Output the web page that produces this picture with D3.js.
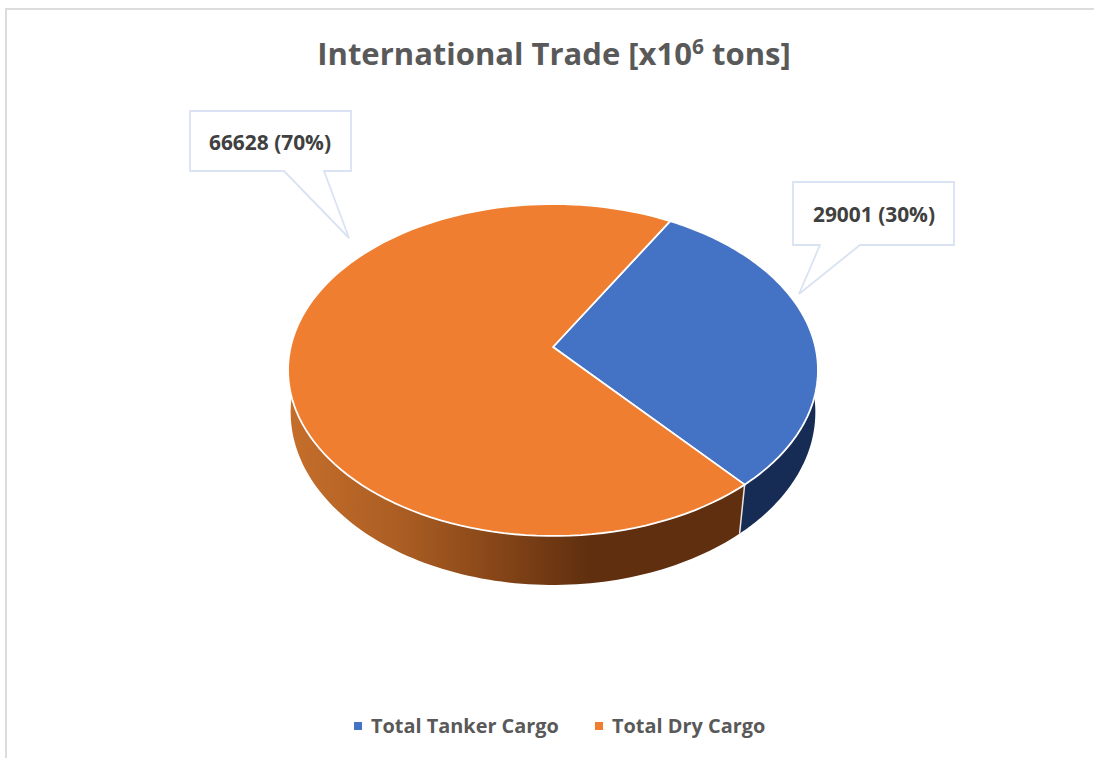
<!DOCTYPE html>
<html>
<head>
<meta charset="utf-8">
<script src="https://cdn.jsdelivr.net/npm/d3@7"></script>
<style>
  html, body { margin: 0; padding: 0; background: #fff; }
  svg { display: block; }
  text { font-family: "Open Sans", sans-serif; font-weight: 700; }
</style>
</head>
<body>
<svg id="chart" width="1094" height="758"></svg>
<script>
// Cargo totals, in millions of tons
const categories = ["Total Tanker Cargo", "Total Dry Cargo"];
const values = [29001, 66628];
const topColors = ["#4472c4", "#f07e31"];
const titleParts = ["International Trade [x10", "6", " tons]"];

const svg = d3.select("#chart");
const total = d3.sum(values);
const rad = d => d * Math.PI / 180;

// Slices, clockwise from 30 degrees past twelve o'clock
const arcs = d3.pie().sort(null).startAngle(rad(30)).endAngle(rad(390))(values);

// Tilted disc in perspective: nearer points are drawn larger
const pivot = { x: 553, y: 347 };
const topDisc = { rx: 262.4, ry: 162.8, tilt: 0.1386, drop: 0 };
const floorDisc = { rx: 260.6, ry: 170.5, tilt: 0.115, drop: 45.3 };

function project(angle, disc) {
  const x = Math.sin(angle), y = -Math.cos(angle);
  const w = 1 - disc.tilt * y;
  return [pivot.x + disc.rx * x / w, pivot.y + disc.drop + disc.ry * y / w];
}
const sweep = (a0, a1, disc) =>
  d3.range(0, 121).map(i => project(a0 + (a1 - a0) * i / 120, disc));
const line = d3.line();

// Frame of the chart area
svg.append("path")
  .attr("d", "M6,758V9H1094")
  .attr("fill", "none").attr("stroke", "#dcdcdc").attr("stroke-width", 2);

// Title with superscript exponent
const title = svg.append("text")
  .attr("x", 554).attr("y", 65).attr("text-anchor", "middle")
  .attr("font-size", 31).attr("fill", "#595959");
title.append("tspan").text(titleParts[0]);
title.append("tspan").text(titleParts[1]).attr("dy", -11).attr("font-size", 21);
title.append("tspan").text(titleParts[2]).attr("dy", 11);

// Shading of the side walls
const defs = svg.append("defs");
const shade = defs.append("linearGradient").attr("id", "dryWall")
  .attr("gradientUnits", "userSpaceOnUse")
  .attr("x1", 290).attr("x2", 745).attr("y1", 0).attr("y2", 0);
[[0, "#c56e2b"], [0.25, "#aa5d23"], [0.45, "#874618"], [0.66, "#5f2f0f"], [1, "#5f2f0f"]]
  .forEach(([o, c]) => shade.append("stop").attr("offset", o).attr("stop-color", c));
const wallFills = ["#172c54", "url(#dryWall)"];

// Walls: only the part of each slice's rim that faces the viewer
const frontFrom = rad(60), frontTo = rad(300);
svg.append("g").selectAll("path").data(arcs).join("path")
  .attr("d", d => {
    const a0 = Math.max(d.startAngle, frontFrom);
    const a1 = Math.min(d.endAngle, frontTo);
    return line(sweep(a0, a1, topDisc).concat(sweep(a0, a1, floorDisc).reverse())) + "Z";
  })
  .attr("fill", (d, i) => wallFills[i]);

// Pale seam where the two walls meet
const seam = arcs[1].startAngle;
svg.append("path")
  .attr("d", line([project(seam, topDisc), project(seam, floorDisc)]))
  .attr("stroke", "#e8e4df").attr("stroke-width", 1.5).attr("fill", "none");

// Top faces
svg.append("g").selectAll("path").data(arcs).join("path")
  .attr("d", d => line([[pivot.x, pivot.y]].concat(sweep(d.startAngle, d.endAngle, topDisc))) + "Z")
  .attr("fill", (d, i) => topColors[i])
  .attr("stroke", "#fff").attr("stroke-width", 1.8).attr("stroke-linejoin", "round");

// Callouts with the value and share of each slice
const callouts = [
  { i: 1, left: 190, top: 111, right: 351, bottom: 171, baseFrom: 284, baseTo: 324, tip: [349, 238], tx: 270, ty: 150 },
  { i: 0, left: 793, top: 182, right: 954, bottom: 245, baseFrom: 820, baseTo: 860, tip: [799, 294], tx: 874, ty: 222 }
];
const callout = svg.append("g").selectAll("g").data(callouts).join("g");
callout.append("path")
  .attr("d", c => line([
    [c.left, c.top], [c.right, c.top], [c.right, c.bottom], [c.baseTo, c.bottom],
    c.tip, [c.baseFrom, c.bottom], [c.left, c.bottom]]) + "Z")
  .attr("fill", "none").attr("stroke", "#dae3f3").attr("stroke-width", 1.8);
callout.append("text")
  .attr("x", c => c.tx).attr("y", c => c.ty).attr("text-anchor", "middle")
  .attr("font-size", 20.9).attr("fill", "#404040")
  .text(c => `${values[c.i]} (${Math.round(values[c.i] / total * 100)}%)`);

// Legend
const legendX = [354, 595];
const legend = svg.append("g").selectAll("g").data(categories).join("g")
  .attr("transform", (d, i) => `translate(${legendX[i]},0)`);
legend.append("rect")
  .attr("x", 0).attr("y", 722).attr("width", 8).attr("height", 8)
  .attr("fill", (d, i) => topColors[i]);
legend.append("text")
  .attr("x", 17).attr("y", 733).attr("font-size", 19.9).attr("fill", "#595959")
  .text(d => d);
</script>
</body>
</html>
